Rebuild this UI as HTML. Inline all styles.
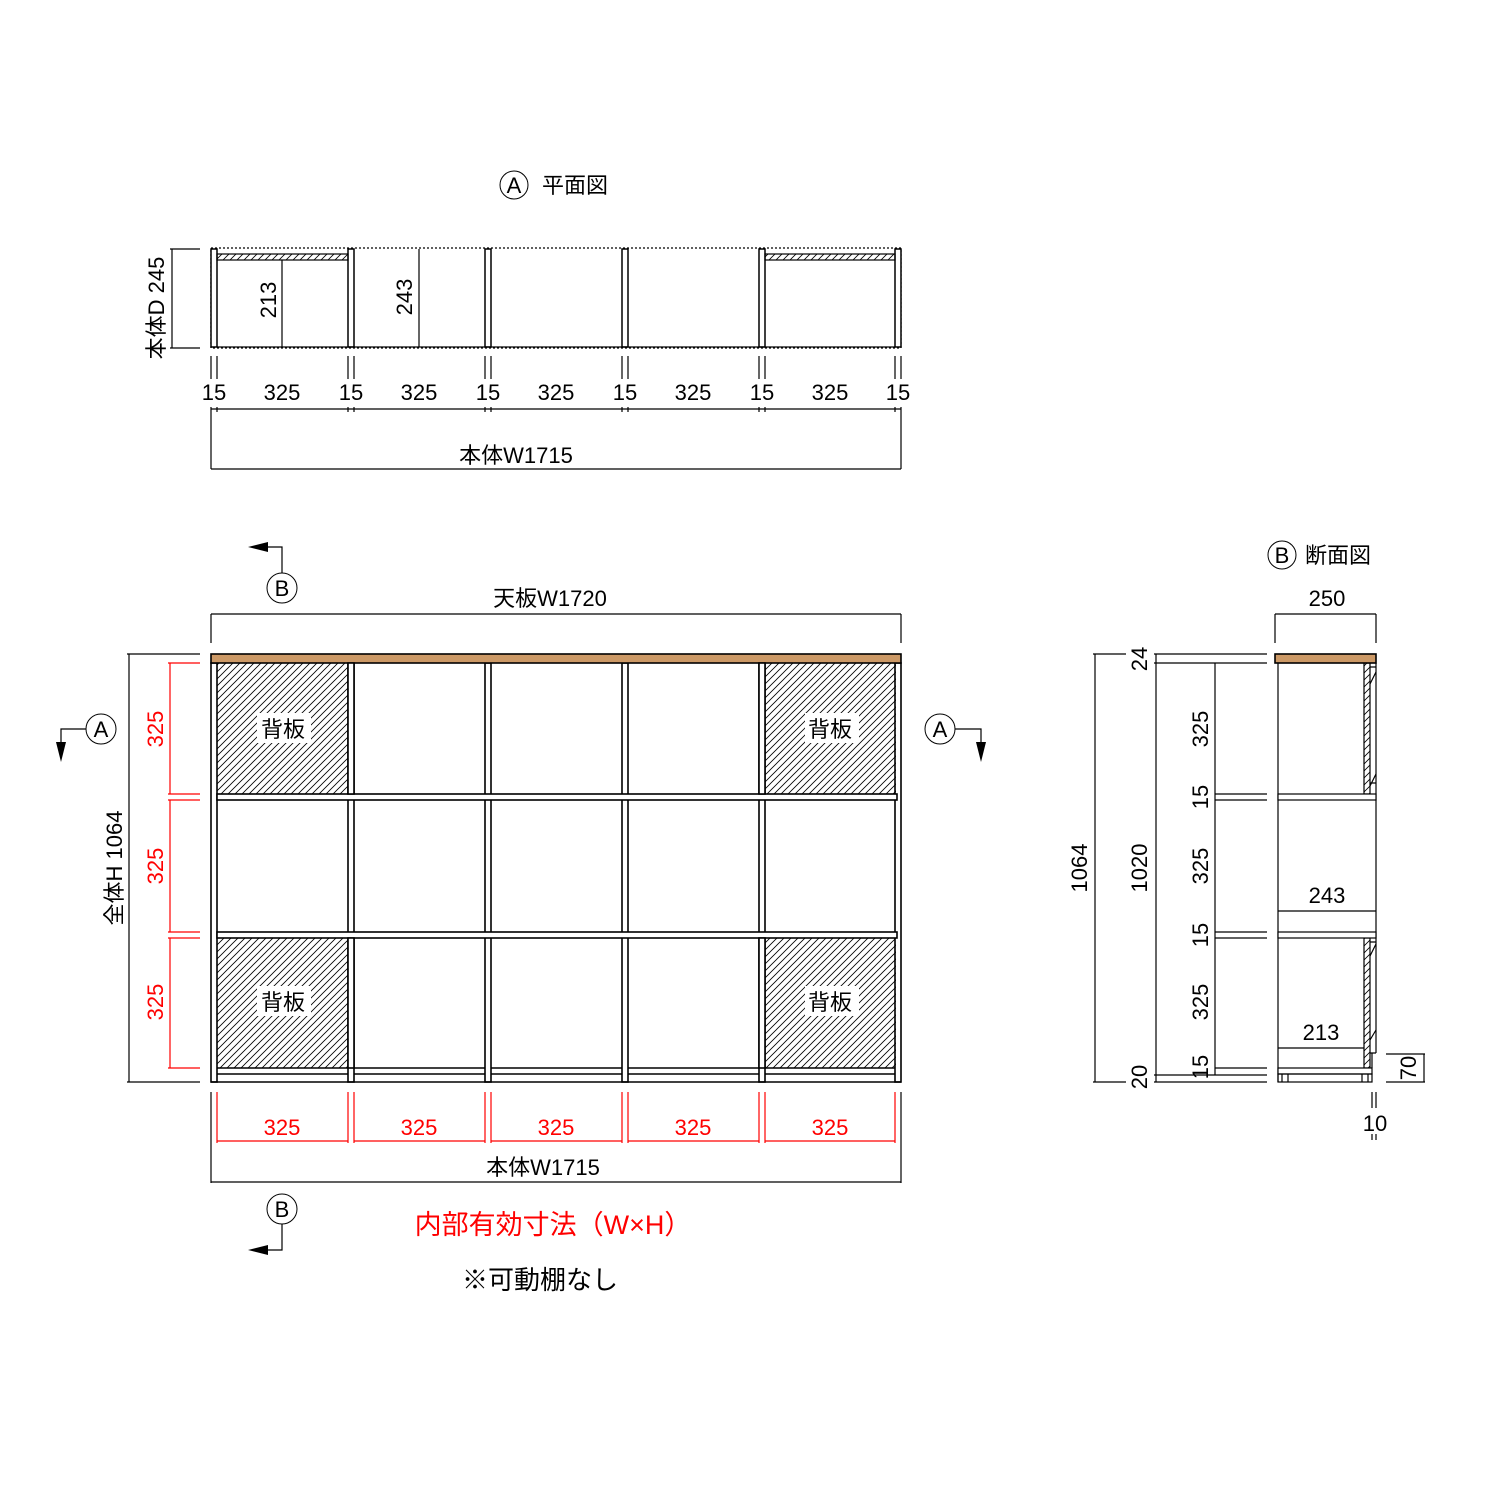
<!DOCTYPE html>
<html><head><meta charset="utf-8"><style>
html,body{margin:0;padding:0;background:#fff;}
svg{display:block}
text{font-family:"Liberation Sans","Noto Sans CJK JP",sans-serif;}
</style></head><body>
<svg width="1500" height="1500" viewBox="0 0 1500 1500" xmlns="http://www.w3.org/2000/svg">
<defs>
<pattern id="h" patternUnits="userSpaceOnUse" width="7" height="7">
<path d="M-1,8 L8,-1 M-1,1 L1,-1 M6,8 L8,6" stroke="#000" stroke-width="0.8"/>
</pattern>
</defs>
<g fill="none" stroke="#000" stroke-width="1.2">

<!-- ===== PLAN VIEW ===== -->
<rect x="211" y="248" width="690" height="100" stroke-dasharray="2,2"/>
<g fill="#fff" stroke-width="1.5">
<rect x="211" y="249" width="6" height="98"/>
<rect x="348" y="249" width="6" height="98"/>
<rect x="485" y="249" width="6" height="98"/>
<rect x="622" y="249" width="6" height="98"/>
<rect x="759" y="249" width="6" height="98"/>
<rect x="895" y="249" width="6" height="98"/>
</g>
<rect x="217" y="254" width="131" height="6" fill="url(#h)"/>
<rect x="765" y="254" width="130" height="6" fill="url(#h)"/>
<line x1="217" y1="347" x2="895" y2="347"/>
<line x1="282" y1="260" x2="282" y2="347"/>
<line x1="419" y1="249" x2="419" y2="347"/>
<line x1="172" y1="249" x2="172" y2="348"/>
<line x1="170" y1="249" x2="200" y2="249"/>
<line x1="170" y1="348" x2="200" y2="348"/>
<g>
<path d="M211,356V379 M217,356V379 M348,356V379 M354,356V379 M485,356V379 M491,356V379 M622,356V379 M628,356V379 M759,356V379 M765,356V379 M895,356V379 M901,356V379"/>
<path d="M211,407V469 M217,407V412 M348,407V412 M354,407V412 M485,407V412 M491,407V412 M622,407V412 M628,407V412 M759,407V412 M765,407V412 M895,407V412 M901,407V469"/>
<line x1="211" y1="409" x2="901" y2="409"/>
<line x1="211" y1="469" x2="901" y2="469"/>
</g>

<!-- ===== FRONT VIEW ===== -->
<rect x="217" y="663" width="131" height="131" fill="url(#h)" stroke="none"/>
<rect x="765" y="663" width="131" height="131" fill="url(#h)" stroke="none"/>
<rect x="217" y="938" width="131" height="130" fill="url(#h)" stroke="none"/>
<rect x="765" y="938" width="131" height="130" fill="url(#h)" stroke="none"/>
<g fill="#fff" stroke="none">
<rect x="257" y="713" width="54" height="30"/>
<rect x="805" y="713" width="54" height="30"/>
<rect x="257" y="986" width="54" height="30"/>
<rect x="805" y="986" width="54" height="30"/>
</g>
<g stroke-width="1.6">
<rect x="211" y="663" width="6" height="419"/>
<rect x="895" y="663" width="6" height="419"/>
<rect x="348" y="663" width="6" height="419"/>
<rect x="485" y="663" width="6" height="419"/>
<rect x="622" y="663" width="6" height="419"/>
<rect x="759" y="663" width="6" height="419"/>
<rect x="217" y="794" width="680" height="6" fill="#fff"/>
<rect x="217" y="932" width="680" height="6" fill="#fff"/>
<path d="M217,1068H348 M354,1068H485 M491,1068H622 M628,1068H759 M765,1068H895"/>
<path d="M217,1074H348 M354,1074H485 M491,1074H622 M628,1074H759 M765,1074H895"/>
<line x1="211" y1="1082" x2="901" y2="1082"/>
<rect x="211" y="654" width="690" height="9" fill="#cc9966"/>
</g>
<rect x="348" y="663" width="6" height="131" fill="#fff" stroke-width="1.6"/>
<rect x="348" y="938" width="6" height="130" fill="#fff" stroke-width="1.6"/>
<rect x="759" y="663" width="6" height="131" fill="#fff" stroke-width="1.6"/>
<rect x="759" y="938" width="6" height="130" fill="#fff" stroke-width="1.6"/>
<!-- top dim -->
<line x1="211" y1="614" x2="901" y2="614"/>
<line x1="211" y1="614" x2="211" y2="643"/>
<line x1="901" y1="614" x2="901" y2="643"/>
<!-- left H dim -->
<line x1="129" y1="654" x2="129" y2="1082"/>
<line x1="127" y1="654" x2="200" y2="654"/>
<line x1="127" y1="1082" x2="200" y2="1082"/>
<g stroke="#f00">
<line x1="170" y1="663" x2="170" y2="794"/>
<line x1="170" y1="800" x2="170" y2="932"/>
<line x1="170" y1="938" x2="170" y2="1068"/>
<path d="M168,663H200 M168,794H200 M168,800H200 M168,932H200 M168,938H200 M168,1068H200"/>
<path d="M217,1092V1143 M348,1092V1143 M354,1092V1143 M485,1092V1143 M491,1092V1143 M622,1092V1143 M628,1092V1143 M759,1092V1143 M765,1092V1143 M895,1092V1143"/>
<path d="M217,1141H348 M354,1141H485 M491,1141H622 M628,1141H759 M765,1141H895"/>
</g>
<line x1="211" y1="1092" x2="211" y2="1183"/>
<line x1="901" y1="1092" x2="901" y2="1183"/>
<line x1="211" y1="1182" x2="901" y2="1182"/>
<!-- section markers -->
<circle cx="282" cy="588" r="15" stroke-width="1"/>
<path d="M282,573V547H258"/>
<circle cx="282" cy="1209" r="15" stroke-width="1"/>
<path d="M282,1224V1250H258"/>
<circle cx="101" cy="729" r="15" stroke-width="1"/>
<path d="M86,729H61V752"/>
<circle cx="940" cy="729" r="15" stroke-width="1"/>
<path d="M955,729H981V752"/>
<circle cx="514" cy="185" r="14" stroke-width="1"/>
<circle cx="1282" cy="555" r="14" stroke-width="1"/>

<!-- ===== SECTION VIEW ===== -->
<line x1="1275" y1="614" x2="1376" y2="614"/>
<line x1="1275" y1="614" x2="1275" y2="643"/>
<line x1="1376" y1="614" x2="1376" y2="643"/>
<line x1="1278" y1="663" x2="1278" y2="1082"/>
<line x1="1376" y1="663" x2="1376" y2="1053"/>
<rect x="1364" y="663" width="6" height="131" fill="url(#h)"/>
<rect x="1364" y="938" width="6" height="130" fill="url(#h)"/>
<path d="M1370,667H1376 M1370,684L1376,672 M1370,786L1376,774 M1370,783H1376 M1370,942H1376 M1370,956L1376,944 M1370,1040L1376,1030 M1370,1053H1376 M1372,1053V1068"/>
<rect x="1278" y="794" width="98" height="6" fill="#fff"/>
<rect x="1278" y="932" width="98" height="6" fill="#fff"/>
<line x1="1278" y1="911" x2="1376" y2="911"/>
<line x1="1278" y1="1048" x2="1364" y2="1048"/>
<rect x="1278" y="1068" width="94" height="6" fill="#fff"/>
<rect x="1278" y="1074" width="94" height="8"/>
<path d="M1282,1074V1082 M1288,1074V1082 M1362,1074V1082 M1368,1074V1082"/>
<rect x="1275" y="654" width="101" height="9" fill="#cc9966" stroke-width="1.6"/>
<!-- section dims -->
<line x1="1095" y1="654" x2="1095" y2="1082"/>
<line x1="1093" y1="654" x2="1126" y2="654"/>
<line x1="1093" y1="1082" x2="1126" y2="1082"/>
<line x1="1156" y1="654" x2="1156" y2="1082"/>
<path d="M1154,654H1267 M1154,663H1267 M1154,1075H1267 M1154,1082H1267"/>
<line x1="1215" y1="663" x2="1215" y2="1075"/>
<path d="M1215,794H1267 M1215,800H1267 M1215,932H1267 M1215,938H1267 M1215,1068H1267"/>
<line x1="1424" y1="1054" x2="1424" y2="1082"/>
<path d="M1386,1054H1425 M1386,1082H1425"/>
<path d="M1372,1092V1108 M1376,1092V1108 M1372,1134V1140 M1376,1134V1140"/>
</g>
<!-- arrowheads -->
<g fill="#000">
<polygon points="248,547 268,542 268,552"/>
<polygon points="248,1250 268,1245 268,1255"/>
<polygon points="61,762 56,742 66,742"/>
<polygon points="981,762 976,742 986,742"/>
</g>

<!-- ===== TEXT ===== -->
<g font-size="22" fill="#000" text-anchor="middle">
<text x="514" y="193">A</text>
<text x="575" y="193" font-size="22">平面図</text>
<text x="1282" y="563">B</text>
<text x="1338" y="563">断面図</text>
<text x="282" y="596">B</text>
<text x="282" y="1217">B</text>
<text x="101" y="737">A</text>
<text x="940" y="737">A</text>

<text transform="translate(164,308) rotate(-90)">本体D 245</text>
<text transform="translate(276,300) rotate(-90)">213</text>
<text transform="translate(412,297) rotate(-90)">243</text>
<text x="214" y="400">15</text><text x="282" y="400">325</text>
<text x="351" y="400">15</text><text x="419" y="400">325</text>
<text x="488" y="400">15</text><text x="556" y="400">325</text>
<text x="625" y="400">15</text><text x="693" y="400">325</text>
<text x="762" y="400">15</text><text x="830" y="400">325</text>
<text x="898" y="400">15</text>
<text x="516" y="463">本体W1715</text>

<text x="550" y="606">天板W1720</text>
<text x="283" y="737">背板</text><text x="830" y="737">背板</text>
<text x="283" y="1010">背板</text><text x="830" y="1010">背板</text>
<text transform="translate(122,868) rotate(-90)">全体H 1064</text>
<g fill="#f00">
<text transform="translate(163,729) rotate(-90)">325</text>
<text transform="translate(163,866) rotate(-90)">325</text>
<text transform="translate(163,1002) rotate(-90)">325</text>
<text x="282" y="1135">325</text><text x="419" y="1135">325</text>
<text x="556" y="1135">325</text><text x="693" y="1135">325</text>
<text x="830" y="1135">325</text>
<text x="553" y="1234" font-size="27">内部有効寸法（W×H）</text>
</g>
<text x="543" y="1175">本体W1715</text>
<text x="540" y="1289" font-size="26">※可動棚なし</text>

<text x="1327" y="606">250</text>
<text x="1327" y="903">243</text>
<text x="1321" y="1040">213</text>
<text transform="translate(1087,868) rotate(-90)">1064</text>
<text transform="translate(1147,659) rotate(-90)">24</text>
<text transform="translate(1147,868) rotate(-90)">1020</text>
<text transform="translate(1147,1077) rotate(-90)">20</text>
<text transform="translate(1208,729) rotate(-90)">325</text>
<text transform="translate(1208,797) rotate(-90)">15</text>
<text transform="translate(1208,866) rotate(-90)">325</text>
<text transform="translate(1208,935) rotate(-90)">15</text>
<text transform="translate(1208,1002) rotate(-90)">325</text>
<text transform="translate(1208,1067) rotate(-90)">15</text>
<text transform="translate(1416,1068) rotate(-90)">70</text>
<text x="1375" y="1131">10</text>
</g>
</svg>
</body></html>
